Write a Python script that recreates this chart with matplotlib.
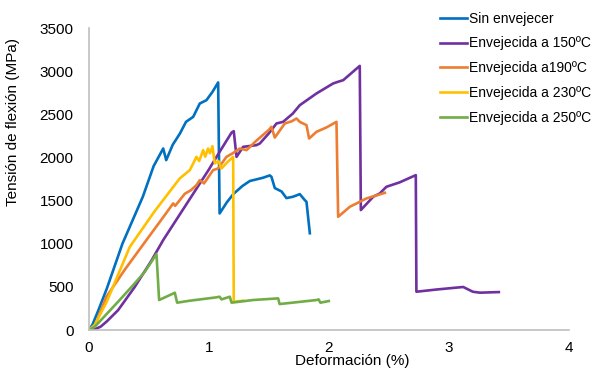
import matplotlib
matplotlib.use("Agg")
import matplotlib.pyplot as plt

plt.rcParams['font.family'] = ['Liberation Sans', 'DejaVu Sans']

# Sin envejecer
x_sin = [0, 0.03, 0.08, 0.15, 0.28, 0.45, 0.54, 0.62, 0.645, 0.70, 0.76, 0.81, 0.87, 0.925,
         0.98, 1.03, 1.078, 1.09, 1.15, 1.204, 1.28, 1.342, 1.397, 1.45, 1.508, 1.522, 1.55,
         1.606, 1.647, 1.70, 1.731, 1.758, 1.80, 1.814, 1.842]
y_sin = [0, 60, 230, 480, 1000, 1545, 1900, 2105, 1970, 2150, 2280, 2414, 2472, 2627,
         2665, 2760, 2871, 1352, 1480, 1576, 1670, 1728, 1747, 1765, 1793, 1777, 1646,
         1607, 1530, 1545, 1561, 1576, 1506, 1487, 1122]

# Envejecida a 150ºC
x_150 = [0, 0.05, 0.10, 0.15, 0.244, 0.383, 0.52, 0.62, 0.80, 1.00, 1.09, 1.19, 1.208, 1.231,
         1.286, 1.397, 1.425, 1.50, 1.564, 1.619, 1.70, 1.758, 1.897, 2.036, 2.08, 2.12, 2.258,
         2.267, 2.37, 2.425, 2.48, 2.564, 2.59, 2.725, 2.73, 2.90, 3.12, 3.2, 3.26, 3.417]
y_150 = [0, 8, 40, 100, 230, 500, 800, 1043, 1430, 1860, 2066, 2290, 2306, 2008,
         2124, 2144, 2163, 2280, 2395, 2414, 2510, 2607, 2743, 2859, 2880, 2897, 3063,
         1391, 1545, 1584, 1661, 1700, 1712, 1796, 444, 470, 499, 444, 433, 440]

# Envejecida a 190ºC
x_190 = [0, 0.05, 0.147, 0.30, 0.48, 0.60, 0.703, 0.72, 0.80, 0.85, 0.897, 0.925, 0.96,
         1.036, 1.078, 1.147, 1.20, 1.258, 1.314, 1.40, 1.50, 1.522, 1.55, 1.633, 1.69, 1.731,
         1.758, 1.814, 1.836, 1.897, 1.98, 2.064, 2.078, 2.175, 2.314, 2.467]
y_190 = [0, 50, 386, 700, 1043, 1270, 1468, 1440, 1580, 1620, 1680, 1738, 1700,
         1854, 1874, 2008, 2050, 2105, 2086, 2200, 2320, 2356, 2232, 2395, 2420, 2453,
         2414, 2376, 2221, 2298, 2349, 2414, 1313, 1429, 1526, 1591]

# Envejecida a 230ºC
x_230 = [0, 0.05, 0.15, 0.342, 0.55, 0.758, 0.842, 0.87, 0.897, 0.92, 0.953, 0.97, 0.994,
         1.01, 1.03, 1.05, 1.08, 1.106, 1.15, 1.203, 1.208, 1.217, 1.286]
y_230 = [0, 60, 330, 965, 1380, 1758, 1854, 1932, 2008, 1960, 2086, 2010, 2105,
         2050, 2132, 1932, 1960, 1874, 1940, 2008, 330, 328, 340]

# Envejecida a 250ºC
x_250 = [0, 0.05, 0.244, 0.383, 0.467, 0.564, 0.586, 0.717, 0.736, 0.842, 1.064, 1.09, 1.106,
         1.175, 1.19, 1.37, 1.578, 1.59, 1.9, 1.915, 1.93, 2.0]
y_250 = [0, 38, 328, 541, 676, 880, 348, 432, 317, 340, 379, 386, 355,
         386, 317, 348, 367, 301, 348, 355, 317, 336]

series = [
    (x_sin, y_sin, 'Sin envejecer', '#0070C0'),
    (x_150, y_150, 'Envejecida a 150ºC', '#7030A0'),
    (x_190, y_190, 'Envejecida a190ºC', '#ED7D31'),
    (x_230, y_230, 'Envejecida a 230ºC', '#FFC000'),
    (x_250, y_250, 'Envejecida a 250ºC', '#70AD47'),
]

fig = plt.figure(figsize=(6, 3.74), dpi=100)
ax = fig.add_axes([0.148, 0.1176, 0.80, 0.807])

for xs, ys, label, color in series:
    ax.plot(xs, ys, color=color, lw=1.9, label=label)

ax.set_xlim(0, 4)
ax.set_ylim(0, 3500)
ax.set_xticks([0, 1, 2, 3, 4])
ax.set_yticks(range(0, 3501, 500))
ax.tick_params(length=0, labelsize=11)
ax.tick_params(axis='x', pad=8)
ax.tick_params(axis='y', pad=11)
for s in ['top', 'right']:
    ax.spines[s].set_visible(False)
for s in ['left', 'bottom']:
    ax.spines[s].set_color('#BFBFBF')
    ax.spines[s].set_linewidth(1.2)

ax.set_xlabel('Deformación (%)', fontsize=11)
ax.set_ylabel('Tensión de flexión (MPa)', fontsize=11)
ax.xaxis.set_label_coords(0.548, -0.08)
ax.yaxis.set_label_coords(-0.143, 0.689)

ax.legend(loc='upper left', bbox_to_anchor=(0.731, 1.055), frameon=False, fontsize=10,
          handlelength=2.0, handletextpad=0.1, labelspacing=0.78, borderpad=0,
          borderaxespad=0)

fig.savefig('out.png', dpi=100)
